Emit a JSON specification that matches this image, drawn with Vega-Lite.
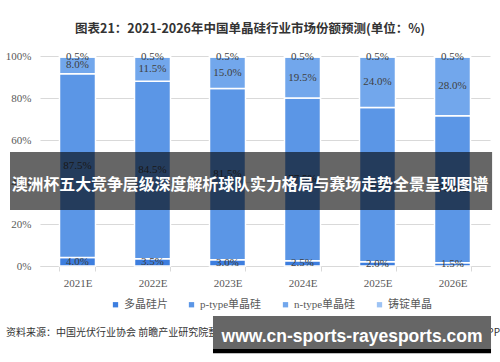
{
  "$schema": "https://vega.github.io/schema/vega-lite/v6.json",
  "width": 450,
  "height": 210,
  "autosize": {"type": "none"},
  "padding": {"left": 40, "top": 56, "right": 10, "bottom": 96},
  "background": "white",
  "config": {"view": {"stroke": null}},
  "title": {
    "text": "图表21：2021-2026年中国单晶硅行业市场份额预测(单位：%)",
    "font": "Noto Sans CJK SC",
    "fontSize": 12.5,
    "fontWeight": "bold",
    "color": "#333333",
    "anchor": "middle",
    "dx": -15,
    "offset": 15
  },
  "data": {
    "values": [
      {"year": "2021E", "type": "多晶硅片", "order": 1, "value": 4.0},
      {"year": "2021E", "type": "p-type单晶硅", "order": 2, "value": 87.5},
      {"year": "2021E", "type": "n-type单晶硅", "order": 3, "value": 8.0},
      {"year": "2021E", "type": "铸锭单晶", "order": 4, "value": 0.5},
      {"year": "2022E", "type": "多晶硅片", "order": 1, "value": 3.5},
      {"year": "2022E", "type": "p-type单晶硅", "order": 2, "value": 84.5},
      {"year": "2022E", "type": "n-type单晶硅", "order": 3, "value": 11.5},
      {"year": "2022E", "type": "铸锭单晶", "order": 4, "value": 0.5},
      {"year": "2023E", "type": "多晶硅片", "order": 1, "value": 3.0},
      {"year": "2023E", "type": "p-type单晶硅", "order": 2, "value": 81.5},
      {"year": "2023E", "type": "n-type单晶硅", "order": 3, "value": 15.0},
      {"year": "2023E", "type": "铸锭单晶", "order": 4, "value": 0.5},
      {"year": "2024E", "type": "多晶硅片", "order": 1, "value": 2.5},
      {"year": "2024E", "type": "p-type单晶硅", "order": 2, "value": 77.5},
      {"year": "2024E", "type": "n-type单晶硅", "order": 3, "value": 19.5},
      {"year": "2024E", "type": "铸锭单晶", "order": 4, "value": 0.5},
      {"year": "2025E", "type": "多晶硅片", "order": 1, "value": 2.0},
      {"year": "2025E", "type": "p-type单晶硅", "order": 2, "value": 73.5},
      {"year": "2025E", "type": "n-type单晶硅", "order": 3, "value": 24.0},
      {"year": "2025E", "type": "铸锭单晶", "order": 4, "value": 0.5},
      {"year": "2026E", "type": "多晶硅片", "order": 1, "value": 1.5},
      {"year": "2026E", "type": "p-type单晶硅", "order": 2, "value": 70.0},
      {"year": "2026E", "type": "n-type单晶硅", "order": 3, "value": 28.0},
      {"year": "2026E", "type": "铸锭单晶", "order": 4, "value": 0.5}
    ]
  },
  "layer": [
    {
      "mark": {"type": "bar", "stroke": "white", "strokeWidth": 1.5},
      "encoding": {
        "x": {
          "field": "year",
          "type": "nominal",
          "title": null,
          "scale": {"paddingInner": 0.52, "paddingOuter": 0.26},
          "axis": {
            "labelAngle": 0,
            "domainColor": "#d9d9d9",
            "ticks": true,
            "tickBand": "extent",
            "tickColor": "#d9d9d9",
            "tickSize": 5,
            "labelPadding": 6,
            "labelFont": "Liberation Serif",
            "labelFontSize": 11,
            "labelColor": "#595959",
            "grid": false
          }
        },
        "y": {
          "field": "value",
          "type": "quantitative",
          "stack": "zero",
          "title": null,
          "scale": {"domain": [0, 100]},
          "axis": {
            "values": [0, 10, 20, 30, 40, 50, 60, 70, 80, 90, 100],
            "labelExpr": "datum.value + '%'",
            "grid": true,
            "gridColor": "#d9d9d9",
            "domain": false,
            "ticks": false,
            "labelPadding": 9,
            "labelFont": "Liberation Serif",
            "labelFontSize": 11,
            "labelColor": "#595959"
          }
        },
        "color": {
          "field": "type",
          "type": "nominal",
          "scale": {
            "domain": ["多晶硅片", "p-type单晶硅", "n-type单晶硅", "铸锭单晶"],
            "range": ["#3d7edf", "#5b96e6", "#72a7ec", "#9dc3f4"]
          },
          "legend": {
            "orient": "none",
            "legendX": 70,
            "legendY": 243,
            "direction": "horizontal",
            "title": null,
            "symbolType": "square",
            "symbolSize": 28,
            "symbolStrokeWidth": 0,
            "labelFont": "Liberation Serif, Noto Sans CJK SC",
            "labelFontSize": 11,
            "labelColor": "#595959",
            "labelOffset": 3,
            "columnPadding": 18
          }
        },
        "order": {"field": "order", "type": "quantitative"}
      }
    },
    {
      "transform": [
        {"stack": "value", "groupby": ["year"], "sort": [{"field": "order", "order": "ascending"}], "as": ["v0", "v1"]},
        {"calculate": "(datum.v0 + datum.v1) / 2", "as": "mid"},
        {"calculate": "format(datum.value, '.1f') + '%'", "as": "label"}
      ],
      "mark": {"type": "text", "font": "Liberation Serif", "fontSize": 11, "color": "#404040", "baseline": "middle"},
      "encoding": {
        "x": {"field": "year", "type": "nominal", "title": null},
        "y": {"field": "mid", "type": "quantitative", "title": null, "scale": {"domain": [0, 100]}},
        "text": {"field": "label"}
      }
    },
    {
      "data": {"values": [{"k": 1}]},
      "mark": {"type": "rect", "color": "black", "opacity": 0.6},
      "encoding": {
        "x": {"datum": "2021E", "type": "nominal", "bandPosition": -1.375, "title": null},
        "x2": {"datum": "2026E", "bandPosition": 1.6},
        "y": {"datum": 54.3, "type": "quantitative", "title": null, "scale": {"domain": [0, 100]}},
        "y2": {"datum": 26.7}
      }
    },
    {
      "data": {"values": [{"label": "澳洲杯五大竞争层级深度解析球队实力格局与赛场走势全景呈现图谱"}]},
      "mark": {"type": "text", "font": "Noto Sans CJK SC", "fontWeight": "bold", "fontSize": 15.9, "color": "white", "align": "center", "baseline": "middle"},
      "encoding": {
        "x": {"datum": "2023E", "type": "nominal", "bandPosition": 1.125, "title": null},
        "y": {"datum": 38.6, "type": "quantitative", "title": null, "scale": {"domain": [0, 100]}},
        "text": {"field": "label"}
      }
    },
    {
      "data": {"values": [{"label": "资料来源：中国光伏行业协会 前瞻产业研究院整理"}]},
      "mark": {"type": "text", "font": "Noto Sans CJK SC", "fontSize": 10, "color": "#333333", "align": "left", "baseline": "middle"},
      "encoding": {
        "x": {"datum": "2021E", "type": "nominal", "bandPosition": -1.486, "title": null},
        "y": {"datum": -31.9, "type": "quantitative", "title": null, "scale": {"domain": [0, 100]}},
        "text": {"field": "label"}
      }
    },
    {
      "data": {"values": [{"label": "©前瞻经济学人APP"}]},
      "mark": {"type": "text", "font": "Noto Sans CJK SC", "fontSize": 10, "color": "#333333", "align": "right", "baseline": "middle"},
      "encoding": {
        "x": {"datum": "2026E", "type": "nominal", "bandPosition": 1.82, "title": null},
        "y": {"datum": -31.9, "type": "quantitative", "title": null, "scale": {"domain": [0, 100]}},
        "text": {"field": "label"}
      }
    },
    {
      "data": {"values": [{"k": 1}]},
      "mark": {"type": "rect", "color": "#666666"},
      "encoding": {
        "x": {"datum": "2023E", "type": "nominal", "bandPosition": 0.097, "title": null},
        "x2": {"datum": "2026E", "bandPosition": 1.57},
        "y": {"datum": -23.8, "type": "quantitative", "title": null, "scale": {"domain": [0, 100]}},
        "y2": {"datum": -39.5}
      }
    },
    {
      "data": {"values": [{"k": 1}]},
      "mark": {"type": "rect", "color": "black"},
      "encoding": {
        "x": {"datum": "2023E", "type": "nominal", "bandPosition": 0.097, "title": null},
        "x2": {"datum": "2026E", "bandPosition": 1.57},
        "y": {"datum": -39.5, "type": "quantitative", "title": null, "scale": {"domain": [0, 100]}},
        "y2": {"datum": -41.6}
      }
    },
    {
      "data": {"values": [{"label": "www.cn-sports-rayesports.com"}]},
      "mark": {"type": "text", "font": "Liberation Sans", "fontWeight": "bold", "fontSize": 17.5, "color": "white", "align": "center", "baseline": "middle"},
      "encoding": {
        "x": {"datum": "2024E", "type": "nominal", "bandPosition": 1.875, "title": null},
        "y": {"datum": -33.8, "type": "quantitative", "title": null, "scale": {"domain": [0, 100]}},
        "text": {"field": "label"}
      }
    }
  ]
}
